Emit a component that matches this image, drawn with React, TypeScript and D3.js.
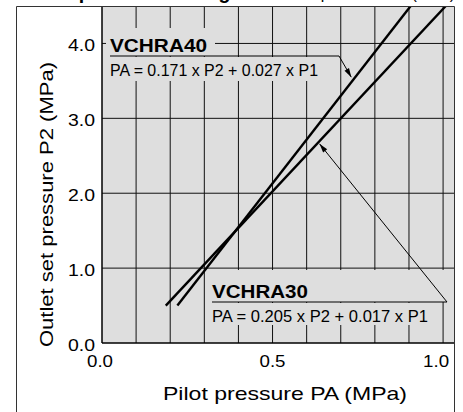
import React from 'react';
import * as d3 from 'd3';

// ---- data ----
const xTickValues = [0, 0.5, 1.0];
const xTickLabels = ['0.0', '0.5', '1.0'];
const yTickValues = [0, 1, 2, 3, 4];
const yTickLabels = ['0.0', '1.0', '2.0', '3.0', '4.0'];
const xGridValues = [0.1, 0.2, 0.3, 0.4, 0.5, 0.6, 0.7, 0.8, 0.9, 1.0];
const yGridValues = [1, 2, 3, 4];

const seriesNames = ['VCHRA40', 'VCHRA30'];
const equations = ['PA = 0.171 x P2 + 0.027 x P1', 'PA = 0.205 x P2 + 0.017 x P1'];
const vchra40PA = [0.221, 0.905];
const vchra40P2 = [0.5, 4.5];
const vchra30PA = [0.187, 1.008];
const vchra30P2 = [0.5, 4.5];

const xAxisTitle = 'Pilot pressure PA (MPa)';
const yAxisTitle = 'Outlet set pressure P2 (MPa)';
const titleBold = 'Outlet pressure setting';
const titleNormal = 'Outlet set pressure P2 (MPa)';

// ---- layout ----
const W = 463;
const H = 412;
const PL = 102, PR = 454, PT = 6, PB = 343;
const FONT = '"Liberation Sans", Arial, Helvetica, sans-serif';
const BG = '#dedede';

export default function App() {
  const x = d3.scaleLinear().domain([0, 1.032]).range([PL, PR]);
  const y = d3.scaleLinear().domain([0, 4.5]).range([PB, PT]);

  const mk = (pa: number[], p2: number[]) => pa.map((v, i) => ({ pa: v, p2: p2[i] }));
  const s40 = mk(vchra40PA, vchra40P2);
  const s30 = mk(vchra30PA, vchra30P2);
  const line = d3.line<{ pa: number; p2: number }>().x(d => x(d.pa)).y(d => y(d.p2));

  // find PA on a series for a given P2
  const paAt = (s: { pa: number; p2: number }[], p2: number) =>
    d3.scaleLinear().domain([s[0].p2, s[1].p2]).range([s[0].pa, s[1].pa])(p2);

  // arrow tips
  const tip40P2 = 3.55;
  const tip40 = [x(paAt(s40, tip40P2)) - 4, y(tip40P2)];
  const tip30P2 = 2.66;
  const tip30 = [x(paAt(s30, tip30P2)) + 2.5, y(tip30P2)];

  const arrowHead = (from: number[], to: number[]) => {
    const dx = to[0] - from[0], dy = to[1] - from[1];
    const len = Math.hypot(dx, dy);
    const ux = dx / len, uy = dy / len;
    const L = 9, Wd = 2.6;
    const bx = to[0] - ux * L, by = to[1] - uy * L;
    return `M${to[0]},${to[1]} L${bx - uy * Wd},${by + ux * Wd} L${bx + uy * Wd},${by - ux * Wd} Z`;
  };

  const a40from = [339, 56];
  const a30from = [447, 302];

  return (
    <svg width={W} height={H} style={{ position: 'absolute', left: 0, top: 0, display: 'block' }}
      fontFamily={FONT}>
      <rect x={0} y={0} width={W} height={H} fill="#fff" />
      <defs>
        <clipPath id="plotclip">
          <rect x={PL} y={PT} width={PR - PL} height={PB - PT} />
        </clipPath>
      </defs>

      {/* title (mostly cut off) */}
      <text x={17} y={-1.3} fontSize={19.5} fontWeight="bold" fill="#000">{titleBold}</text>
      <text x={455} y={-1.5} fontSize={16} textAnchor="end" fill="#000">{titleNormal}</text>

      {/* plot background */}
      <rect x={PL} y={PT} width={PR - PL} height={PB - PT} fill={BG} />

      {/* grid */}
      {xGridValues.map(v => (
        <line key={'gx' + v} x1={x(v)} x2={x(v)} y1={PT} y2={PB} stroke="#111" strokeWidth={1} />
      ))}
      {yGridValues.map(v => (
        <line key={'gy' + v} x1={PL} x2={PR} y1={y(v)} y2={y(v)} stroke="#111" strokeWidth={1} />
      ))}

      {/* label boxes hiding grid */}
      <rect x={106} y={28} width={109} height={28} fill={BG} />
      <rect x={106} y={57} width={216} height={24} fill={BG} />
      <rect x={208} y={270} width={239} height={32} fill={BG} />
      <rect x={208} y={303} width={224} height={22} fill={BG} />

      {/* VCHRA40 annotation */}
      <text x={110} y={51.5} fontSize={18.5} fontWeight="bold" textLength={97} lengthAdjust="spacingAndGlyphs">{seriesNames[0]}</text>
      <line x1={110} x2={a40from[0]} y1={56} y2={56} stroke="#000" strokeWidth={1.2} />
      <line x1={a40from[0]} y1={a40from[1]} x2={tip40[0]} y2={tip40[1]} stroke="#000" strokeWidth={1} />
      <path d={arrowHead(a40from, tip40)} fill="#000" />
      <text x={110} y={75.5} fontSize={16.5} textLength={208} lengthAdjust="spacingAndGlyphs">{equations[0]}</text>

      {/* VCHRA30 annotation */}
      <text x={212} y={298} fontSize={18.5} fontWeight="bold" textLength={96} lengthAdjust="spacingAndGlyphs">{seriesNames[1]}</text>
      <line x1={212} x2={a30from[0]} y1={302} y2={302} stroke="#000" strokeWidth={1.2} />
      <line x1={a30from[0]} y1={a30from[1]} x2={tip30[0]} y2={tip30[1]} stroke="#000" strokeWidth={1} />
      <path d={arrowHead(a30from, tip30)} fill="#000" />
      <text x={212} y={322} fontSize={16.5} textLength={216} lengthAdjust="spacingAndGlyphs">{equations[1]}</text>

      {/* data lines */}
      <g clipPath="url(#plotclip)">
        <path d={line(s40) || ''} fill="none" stroke="#000" strokeWidth={2.4} />
        <path d={line(s30) || ''} fill="none" stroke="#000" strokeWidth={2.4} />
      </g>

      {/* plot border */}
      <line x1={PL} x2={PL} y1={PT} y2={PB} stroke="#000" strokeWidth={1.5} />
      <line x1={PL} x2={PR} y1={PB} y2={PB} stroke="#000" strokeWidth={1.5} />

      {/* outer frame */}
      <path d={`M16.5,${H + 2} L16.5,6.5 L454.5,6.5 L454.5,${H + 2}`} fill="none" stroke="#333" strokeWidth={1} />

      {/* tick labels */}
      {yTickValues.map((v, i) => (
        <text key={'yl' + v} x={95} y={y(v) + 7.5} fontSize={17} textAnchor="end"
          textLength={27} lengthAdjust="spacingAndGlyphs">{yTickLabels[i]}</text>
      ))}
      {xTickValues.map((v, i) => (
        <text key={'xl' + v} x={x(v) - (i === 2 ? 7 : i === 0 ? 2 : 0)} y={367} fontSize={17} textAnchor="middle"
          textLength={26} lengthAdjust="spacingAndGlyphs">{xTickLabels[i]}</text>
      ))}

      {/* axis titles */}
      <text x={285} y={400} fontSize={18.5} textAnchor="middle" textLength={244} lengthAdjust="spacingAndGlyphs">{xAxisTitle}</text>
      <text transform={`translate(53,204.5) rotate(-90)`} fontSize={18.5} textAnchor="middle" textLength={285} lengthAdjust="spacingAndGlyphs">{yAxisTitle}</text>
    </svg>
  );
}
